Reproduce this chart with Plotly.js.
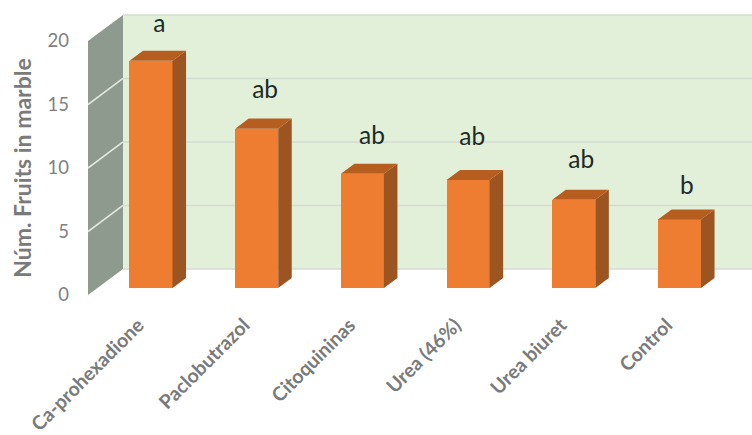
<!DOCTYPE html>
<html>
<head>
<meta charset="utf-8">
<script src="https://cdn.plot.ly/plotly-3.0.1.min.js"></script>
<style>html,body{margin:0;padding:0;background:#fff}#chart{width:752px;height:435px}</style>
</head>
<body>
<div id="chart"></div>
<script>
// Fruits in marble per treatment, with mean-separation letters
const treatments = ['Ca-prohexadione', 'Paclobutrazol', 'Citoquininas', 'Urea (46%)', 'Urea biuret', 'Control'];
const fruitCounts = [17.9, 12.55, 9.0, 8.5, 6.95, 5.4];
const letters = ['a', 'ab', 'ab', 'ab', 'ab', 'b'];
const yTicks = [0, 5, 10, 15, 20];

// Height of each letter above its bar, in axis units
const letterLift = [2.75, 2.9, 2.8, 3.25, 3.0, 2.5];
const letterNudge = [0.08, 0.08, 0.09, 0.04, 0.07, 0.07];

// Oblique projection settings, in axis units
const barWidth = 0.407;
const barBase = 0.55;      // bar foot sits a little behind the front edge of the floor
const barDepthX = 0.128;
const barDepthY = 0.79;
const wallDepthX = 0.331;
const wallDepthY = 2.05;
const xMin = -0.596, xMax = 5.686;
const yMin = -2.126, yMax = 22.126;
const labelShift = -0.12;  // rotated category labels end just left of the bar centre

const ORANGE = '#ee7d31', SIDE = '#9c5420', TOP = '#b65e20';
const WALL = '#e2efd9', SIDEWALL = '#8f9a8e';
const GRID_BACK = '#d3dcd0', GRID_SIDE = '#e3e8df', GREY = '#7a7a7a';

// Closed polygons, joined with gaps so each trace fills them separately
function polygons(pick) {
  const xs = [], ys = [];
  fruitCounts.forEach((v, i) => {
    pick(i, v).forEach(p => { xs.push(p[0]); ys.push(p[1]); });
    xs.push(null); ys.push(null);
  });
  return {x: xs, y: ys};
}

const sideFaces = polygons((i, v) => {
  const r = i + barWidth / 2, t = v + barBase;
  return [[r, barBase], [r + barDepthX, barBase + barDepthY], [r + barDepthX, t + barDepthY], [r, t], [r, barBase]];
});
const topFaces = polygons((i, v) => {
  const l = i - barWidth / 2, r = i + barWidth / 2, t = v + barBase;
  return [[l, t], [l + barDepthX, t + barDepthY], [r + barDepthX, t + barDepthY], [r, t], [l, t]];
});

const faceTrace = (poly, color) => ({
  type: 'scatter', mode: 'lines', x: poly.x, y: poly.y,
  fill: 'toself', fillcolor: color, line: {width: 0, color: color},
  hoverinfo: 'skip', showlegend: false
});

const traces = [
  {
    type: 'bar', x: treatments.map((_, i) => i), y: fruitCounts, base: barBase,
    width: barWidth, marker: {color: ORANGE, line: {width: 0}}, showlegend: false
  },
  faceTrace(sideFaces, SIDE),
  faceTrace(topFaces, TOP),
  {
    type: 'scatter', mode: 'text',
    x: treatments.map((_, i) => i + letterNudge[i]),
    y: fruitCounts.map((v, i) => v + barBase + letterLift[i]),
    text: letters, textposition: 'middle center',
    textfont: {family: 'Lato', size: 24.5, color: '#1c2a28'},
    hoverinfo: 'skip', showlegend: false
  }
];

// Chart walls and their gridlines
const backLeft = xMin + wallDepthX;
const shapes = [
  {type: 'rect', layer: 'below', x0: backLeft, x1: xMax, y0: wallDepthY, y1: 20 + wallDepthY,
   fillcolor: WALL, line: {width: 0}},
  {type: 'path', layer: 'below', fillcolor: SIDEWALL, line: {width: 0},
   path: `M${xMin},0 L${backLeft},${wallDepthY} L${backLeft},${20 + wallDepthY} L${xMin},20 Z`}
];
yTicks.forEach(t => {
  shapes.push({type: 'line', layer: 'below', x0: backLeft, x1: xMax, y0: t + wallDepthY, y1: t + wallDepthY,
    line: {color: GRID_BACK, width: 1.6}});
  if (t > 0 && t < 20) {
    shapes.push({type: 'line', layer: 'below', x0: xMin, x1: backLeft, y0: t, y1: t + wallDepthY,
      line: {color: GRID_SIDE, width: 1.6}});
  }
});

const layout = {
  width: 752, height: 435,
  margin: {l: 88, r: 0, t: 14, b: 113},
  paper_bgcolor: '#ffffff', plot_bgcolor: 'rgba(0,0,0,0)',
  showlegend: false, bargap: 0,
  xaxis: {
    range: [xMin, xMax], tickmode: 'array', tickvals: treatments.map((_, i) => i + labelShift), ticktext: treatments,
    tickangle: -45, showgrid: false, zeroline: false, showline: false, ticks: '', ticklabelstandoff: -13,
    tickfont: {family: 'Lato', size: 19.5, color: GREY, weight: 700}
  },
  yaxis: {
    range: [yMin, yMax], tickmode: 'array', tickvals: yTicks,
    showgrid: false, zeroline: false, showline: false, ticks: '', ticklabelstandoff: 18,
    tickfont: {family: 'Lato', size: 18.5, color: '#808080'},
    title: {text: 'Núm. Fruits in marble', standoff: 9, font: {family: 'Lato', size: 23, color: GREY, weight: 700}}
  },
  shapes: shapes
};

Plotly.newPlot('chart', traces, layout, {displayModeBar: false, staticPlot: true});
</script>
</body>
</html>
